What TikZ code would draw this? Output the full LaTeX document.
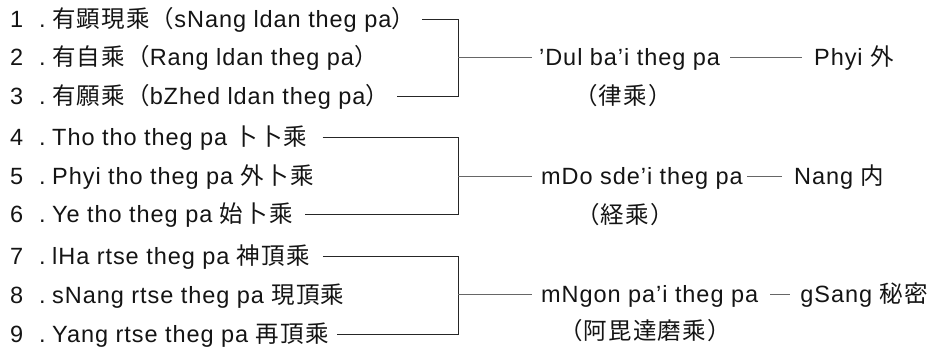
\documentclass[tikz,border=0pt]{standalone}
\usepackage{fontspec}
\setmainfont{Liberation Sans}[LetterSpace=4]
\newfontfamily\cjk{Noto Sans CJK JP}[LetterSpace=5]
\newcommand{\cj}[1]{{\cjk #1}}
\newcommand{\itemno}[1]{\makebox[29pt][l]{#1}.\hspace{6.5pt}}
\tikzset{
  txt/.style={font=\fontsize{23.5}{27}\selectfont, inner xsep=0pt, inner ysep=0pt,
              text height=16.8pt, text depth=0pt, anchor=west, text=black!92},
  txtr/.style={txt, anchor=east},
  sub/.style={txt, anchor=center},
  brace/.style={draw=black!85, line width=0.9pt},
  link/.style={draw=black!60, line width=0.9pt},
}
\begin{document}
\begin{tikzpicture}[x=1pt, y=-1pt]
\useasboundingbox (0,0) rectangle (939,352);

% the nine vehicles
\node[txt] (r1) at (10,19)  {\itemno{1}\cj{有顕現乘（}sNang ldan theg pa\cj{）}};
\node[txt] (r2) at (10,57.5){\itemno{2}\cj{有自乘（}Rang ldan theg pa\cj{）}};
\node[txt] (r3) at (10,96.5){\itemno{3}\cj{有願乘（}bZhed ldan theg pa\cj{）}};
\node[txt] (r4) at (10,137) {\itemno{4}Tho tho theg pa \cj{卜卜乘}};
\node[txt] (r5) at (10,176) {\itemno{5}Phyi tho theg pa \cj{外卜乘}};
\node[txt] (r6) at (10,214) {\itemno{6}Ye tho theg pa \cj{始卜乘}};
\node[txt] (r7) at (10,256) {\itemno{7}lHa rtse theg pa \cj{神頂乘}};
\node[txt] (r8) at (10,295) {\itemno{8}sNang rtse theg pa \cj{現頂乘}};
\node[txt] (r9) at (10,334) {\itemno{9}Yang rtse theg pa \cj{再頂乘}};

% junction points of the brackets
\coordinate (v1) at (458,57.5);
\coordinate (v2) at (458,176);
\coordinate (v3) at (458,294.5);

% the three groups
\node[txt] (m1) at (539,57.5) {'Dul ba'i theg pa};
\node[txt] (m2) at (541,176)  {mDo sde'i theg pa};
\node[txt] (m3) at (541,294.5){mNgon pa'i theg pa};

\node[sub] (s1) at (623,96.5) {\cj{（律乘）}};
\node[sub] (s2) at (625,215)  {\cj{（経乘）}};
\node[sub] (s3) at (645,331)  {\cj{（阿毘達磨乘）}};

\node[txt]  (e1) at (814,57.5) {Phyi \cj{外}};
\node[txt]  (e2) at (794,176)  {Nang \cj{内}};
\node[txtr] (e3) at (928,294.5){gSang \cj{秘密}};

% brackets
\draw[brace] ([xshift=7pt]r1.east) -- (r1.east -| v1) -- (r3.east -| v1) -- ([xshift=8pt]r3.east);
\draw[brace] ([xshift=15pt]r4.east) -- (r4.east -| v2) -- (r6.east -| v2) -- ([xshift=12pt]r6.east);
\draw[brace] ([xshift=13pt]r7.east) -- (r7.east -| v3) -- (r9.east -| v3) -- ([xshift=8pt]r9.east);

% group links
\draw[link] (v1) -- ([xshift=-7pt]m1.west);
\draw[link] (v2) -- ([xshift=-9pt]m2.west);
\draw[link] (v3) -- ([xshift=-9pt]m3.west);
\draw[link] ([xshift=10pt]m1.east) -- ([xshift=-12pt]e1.west);
\draw[link] ([xshift=4pt]m2.east) -- ([xshift=-12pt]e2.west);
\draw[link] ([xshift=12pt]m3.east) -- ([xshift=-10pt]e3.west);
\end{tikzpicture}
\end{document}
